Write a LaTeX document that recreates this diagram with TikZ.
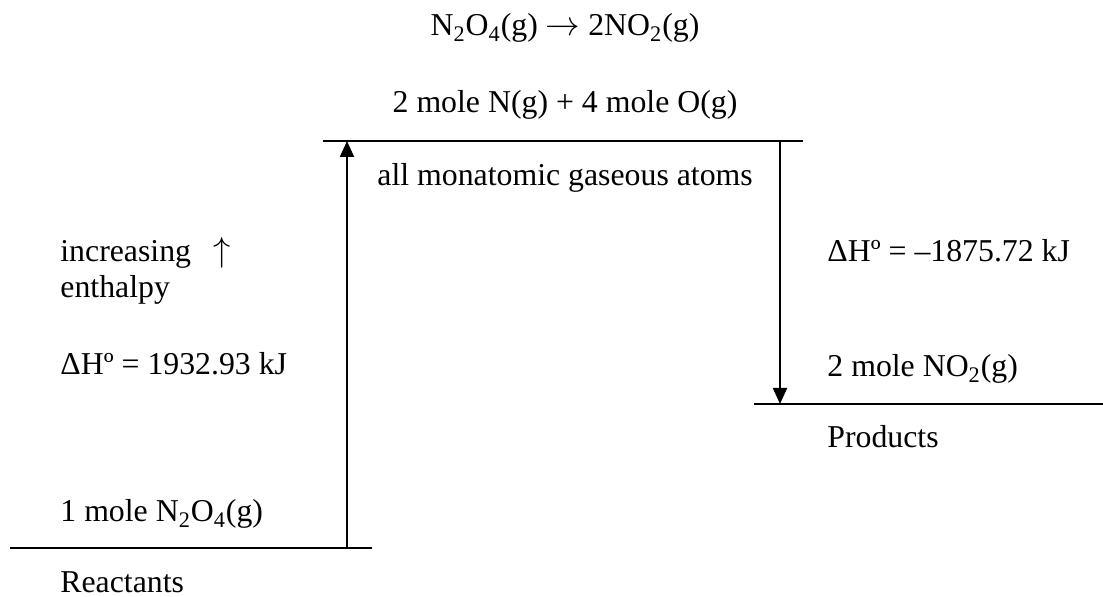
\documentclass[tikz,border=0pt]{standalone}
\usepackage{fontspec}
\setmainfont{Liberation Serif}
\usetikzlibrary{arrows.meta}
\begin{document}
\begin{tikzpicture}[x=0.5pt,y=-0.5pt,
  lbl/.style={anchor=base west,inner sep=0pt,font=\fontsize{15.9}{19}\selectfont},
  clbl/.style={anchor=base,inner sep=0pt,font=\fontsize{15.9}{19}\selectfont},
  level/.style={line width=1pt},
  conn/.style={line width=1pt,-{Triangle[length=8pt,width=7pt]}}]
\useasboundingbox (0,0) rectangle (1103,597);
% energy levels
\coordinate (reactL) at (10,548);
\coordinate (reactR) at (372,548);
\coordinate (topL) at (323,141);
\coordinate (topR) at (803,141);
\coordinate (prodL) at (754,404);
\coordinate (prodR) at (1103,404);
\draw[level] (reactL) -- (reactR);
\draw[level] (topL) -- (topR);
\draw[level] (prodL) -- (prodR);
% arrows
\coordinate (upS) at (347,548);
\coordinate (upE) at (347,141);
\coordinate (dnS) at (780,141);
\coordinate (dnE) at (780,404);
\draw[conn] (upS) -- (upE);
\draw[conn] (dnS) -- (dnE);
% labels
\node[clbl] (title) at (565,36) {N\textsubscript{2}O\textsubscript{4}(g) $\rightarrow$ 2NO\textsubscript{2}(g)};
\node[clbl] (atoms) at (565,113) {2 mole N(g) + 4 mole O(g)};
\node[lbl] (mono) at (377,186) {all monatomic gaseous atoms};
\node[lbl] (incr) at (60,262) {increasing};
\node[lbl] (uparr) at (213,262) {$\uparrow$};
\node[lbl] (enth) at (60,298) {enthalpy};
\node[lbl] (dhl) at (60,375) {ΔHº = 1932.93 kJ};
\node[lbl] (react) at (60,522) {1 mole N\textsubscript{2}O\textsubscript{4}(g)};
\node[lbl] (reactants) at (60,593) {Reactants};
\node[lbl] (dhr) at (827,262) {ΔHº = –1875.72 kJ};
\node[lbl] (prod) at (827,377) {2 mole NO\textsubscript{2}(g)};
\node[lbl] (products) at (827,448) {Products};
\end{tikzpicture}
\end{document}
